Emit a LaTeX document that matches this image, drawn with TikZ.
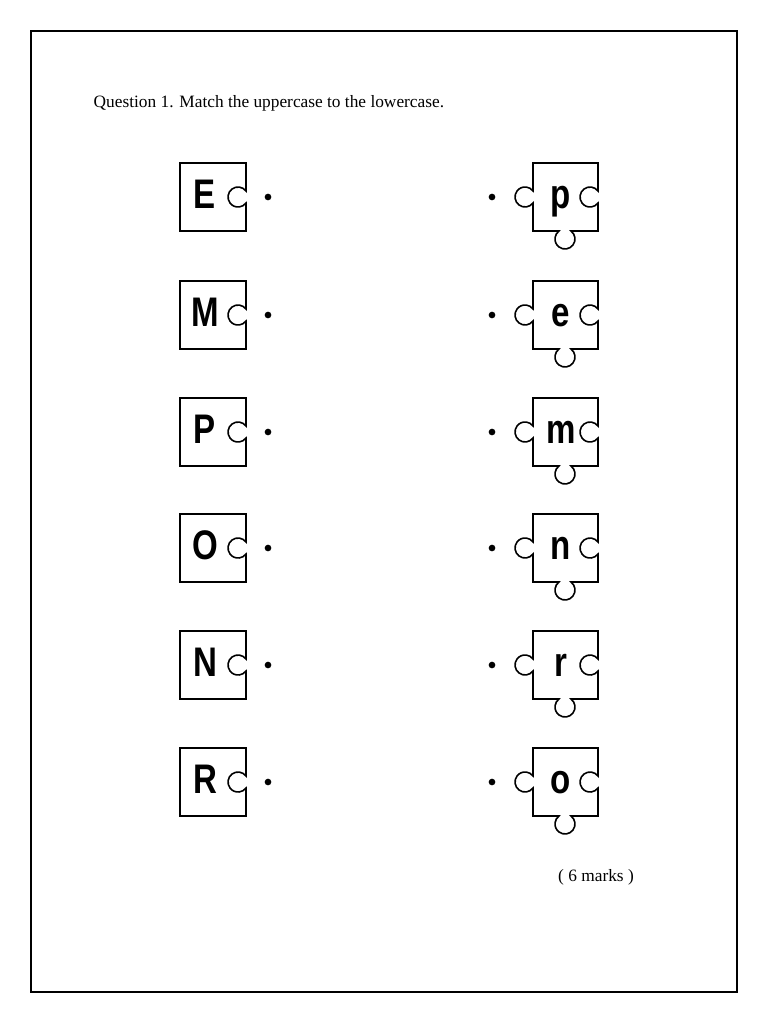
\documentclass[tikz,border=0pt]{standalone}
\usepackage{fontspec}
\setmainfont{Liberation Serif}
\setsansfont{Liberation Sans}
\begin{document}
\begin{tikzpicture}[x=0.75pt,y=-0.75pt,
  piece/.style={draw=black,line width=1.2pt,fill=white},
  lett/.style={font=\sffamily\bfseries\fontsize{31}{31}\selectfont,inner sep=0pt,anchor=base,xscale=0.8},
  dotn/.style={circle,fill=black,inner sep=0pt,minimum size=5pt}]
\useasboundingbox (0,0) rectangle (768,1024);
\draw[line width=1pt] (31,31) rectangle (737,992);
\node[anchor=west,font=\fontsize{13}{15}\selectfont] (q) at (89,103) {Question 1. Match the uppercase to the lowercase.};
\foreach \U/\l/\cy [count=\i] in {E/p/197,M/e/315,P/m/432,O/n/548,N/r/665,R/o/782}{
  \draw[piece] (180,\cy-34) -- (246,\cy-34) -- (246,\cy-6)
     arc[start angle=-37,end angle=-323,radius=10] -- (246,\cy+34) -- (180,\cy+34) -- cycle;
  \node[lett] (U\i) at (205,\cy+11) {\U};
  \node[dotn] (ld\i) at (268,\cy) {};
  \draw[piece] (533,\cy-34) -- (598,\cy-34) -- (598,\cy-6)
     arc[start angle=-37,end angle=-323,radius=10] -- (598,\cy+34) -- (571,\cy+34)
     arc[start angle=-53,end angle=233,radius=10] -- (533,\cy+34) -- (533,\cy+6)
     arc[start angle=37,end angle=323,radius=10] -- cycle;
  \node[lett] (l\i) at (561,\cy+11) {\l};
  \node[dotn] (rd\i) at (492,\cy) {};
}
\node[font=\fontsize{13}{15}\selectfont] (mk) at (596,877) {( 6 marks )};
\end{tikzpicture}
\end{document}
